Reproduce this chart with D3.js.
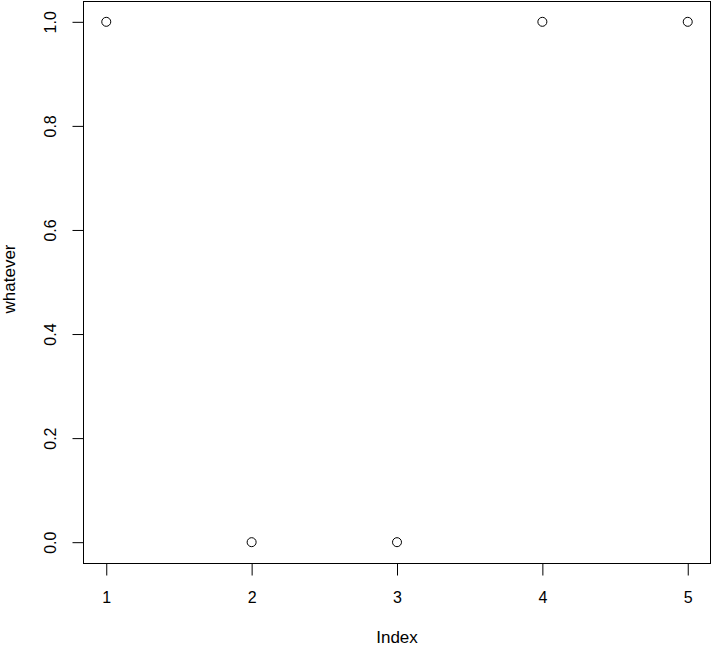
<!DOCTYPE html>
<html>
<head>
<meta charset="utf-8">
<script src="https://cdn.jsdelivr.net/npm/d3@7"></script>
<style>
  body { margin: 0; background: #fff; }
  svg { display: block; }
  .axis text { font-family: "Liberation Sans", Arial, sans-serif; font-size: 16px; fill: #000; }
  .axis path, .axis line { stroke: #000; }
  .label { font-family: "Liberation Sans", Arial, sans-serif; font-size: 17px; fill: #000; }
</style>
</head>
<body>
<svg width="712" height="647"></svg>
<script>
// data
let index = [1, 2, 3, 4, 5]
let whatever = [1, 0, 0, 1, 1]
let xTicks = [1, 2, 3, 4, 5]
let yTicks = [0, 0.2, 0.4, 0.6, 0.8, 1.0]

let svg = d3.select('svg'),
    margin = {top: 1, bottom: 84, left: 83, right: 1},
    width = svg.attr('width') - margin.left - margin.right,
    height = svg.attr('height') - margin.top - margin.bottom

// R style 4% extension of the range
let xScale = d3.scaleLinear().domain([0.84, 5.16]).range([margin.left, margin.left + width]),
    yScale = d3.scaleLinear().domain([-0.04, 1.04]).range([margin.top + height, margin.top])

let pts = index.map((d, i) => ({x: d, y: whatever[i]}))

// plot box
svg.append('rect')
    .attr('x', margin.left + 0.5)
    .attr('y', margin.top + 0.5)
    .attr('width', width - 1)
    .attr('height', height)
    .attr('fill', 'none')
    .attr('stroke', '#000')

// x axis
let xAxis = svg.append('g')
    .attr('class', 'axis')
    .attr('transform', 'translate(0,' + (margin.top + height + 0.5) + ')')
    .call(d3.axisBottom(xScale).tickValues(xTicks).tickFormat(d3.format('d')).tickSize(12).tickPadding(16).tickSizeOuter(0))
xAxis.select('.domain')
    .attr('d', 'M' + xScale(1) + ',0H' + xScale(5))

// y axis
let yAxis = svg.append('g')
    .attr('class', 'axis')
    .attr('transform', 'translate(' + (margin.left + 0.5) + ',0)')
    .call(d3.axisLeft(yScale).tickValues(yTicks).tickFormat(d3.format('.1f')).tickSize(11).tickSizeOuter(0))
yAxis.select('.domain')
    .attr('d', 'M0,' + yScale(0) + 'V' + yScale(1))
yAxis.selectAll('.tick text')
    .attr('x', 0)
    .attr('dy', 0)
    .attr('text-anchor', 'middle')
    .attr('transform', 'translate(-34,0) rotate(-90)')
    .attr('y', 6)

// points
svg.selectAll('circle')
    .data(pts)
    .enter()
    .append('circle')
    .attr('cx', d => xScale(d.x))
    .attr('cy', d => yScale(d.y))
    .attr('r', 4.5)
    .attr('fill', 'none')
    .attr('stroke', '#000')
    .attr('stroke-width', 1)

// axis titles
svg.append('text')
    .attr('class', 'label')
    .attr('text-anchor', 'middle')
    .attr('x', margin.left + width / 2)
    .attr('y', 643)
    .text('Index')

svg.append('text')
    .attr('class', 'label')
    .attr('text-anchor', 'middle')
    .attr('transform', 'translate(15,' + (margin.top + height / 2 - 3) + ') rotate(-90)')
    .text('whatever')
</script>
</body>
</html>
